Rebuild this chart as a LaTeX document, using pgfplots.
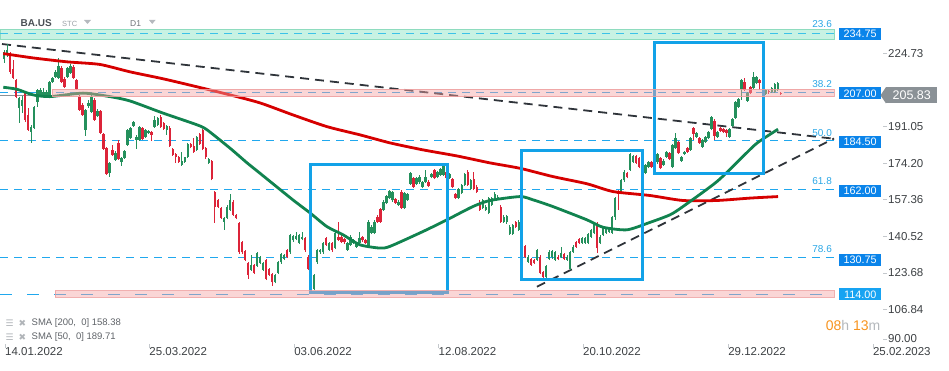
\documentclass[border=0pt]{standalone}
\usepackage{pgfplots}
\pgfplotsset{compat=1.18}
\usepackage{pgfplotstable}
\usepackage{fontspec}
\setmainfont{Liberation Sans}
\newfontfamily\dejavu{DejaVu Sans}
\definecolor{cup}{HTML}{24905C}
\definecolor{cdn}{HTML}{DC2439}
\definecolor{smared}{HTML}{D60000}
\definecolor{smagreen}{HTML}{11834F}
\definecolor{boxblue}{HTML}{12A2E8}
\definecolor{lvl}{HTML}{20A8EE}
\definecolor{lvlcyan}{HTML}{3CC2E8}
\definecolor{trend}{HTML}{2F343A}
\definecolor{gband}{HTML}{C8F2E3}
\definecolor{gbandb}{HTML}{8EDCBF}
\definecolor{pband}{HTML}{F5A3A3}
\definecolor{pbandb}{HTML}{EE9C9C}
\definecolor{lblue}{HTML}{0A84EA}
\definecolor{lblue2}{HTML}{17A3F2}
\definecolor{pgray}{HTML}{8A9196}
\definecolor{axtxt}{HTML}{3C4043}
\definecolor{tickgray}{HTML}{C4C8CC}
\definecolor{fibtxt}{HTML}{2BA7E6}
\definecolor{orng}{HTML}{F7931E}
\definecolor{hgray}{HTML}{B4B8BC}
\definecolor{leg}{HTML}{5F6368}
\definecolor{icon}{HTML}{B0B4B8}
\definecolor{hdr}{HTML}{4A4F55}
\definecolor{stc}{HTML}{9AA0A6}
\definecolor{tri}{HTML}{B5B9BE}
\begin{document}
\pgfplotstableread{
x l h o c
0 220.3 226.3 222.0 225.5
1 223.1 229.1 224.0 226.3
5 192.7 204.7 199.6 204.2
6 197.3 205.1 200.5 203.3
9 183.5 191.8 188.6 190.9
10 190.0 200.5 190.4 200.1
11 200.1 208.4 202.4 207.9
12 204.7 208.8 205.6 207.9
13 205.1 208.8 205.6 206.7
14 204.7 207.9 205.6 207.0
15 205.1 212.0 205.6 211.6
16 211.0 214.0 211.6 213.4
17 213.4 217.1 213.9 216.2
18 213.0 222.6 213.4 218.9
21 213.4 218.5 213.9 218.0
22 215.3 219.9 215.7 218.9
27 186.7 199.2 189.5 198.7
28 199.6 203.3 200.5 201.9
29 197.3 205.6 197.8 204.7
31 195.5 199.2 195.9 198.2
35 167.9 174.8 169.7 174.3
37 175.2 179.8 175.7 178.9
39 172.9 177.1 174.8 176.6
40 176.2 180.3 176.6 179.8
41 182.1 190.0 182.6 189.5
42 185.4 190.9 185.8 190.4
43 190.9 193.6 191.3 192.9
44 180.8 187.2 184.9 186.4
45 184.4 191.5 184.9 191.0
47 185.8 190.0 186.3 189.5
48 187.6 189.5 188.0 189.0
50 190.5 195.9 191.0 194.1
51 191.3 195.5 191.8 195.0
54 187.2 191.8 189.5 191.3
59 172.9 179.1 173.4 175.4
60 174.4 177.2 174.9 176.8
61 176.6 183.6 177.1 183.1
64 179.8 186.9 180.3 186.4
68 173.8 176.7 174.3 176.2
73 143.5 149.5 147.3 149.0
74 148.4 154.7 148.9 154.2
75 152.2 160.1 152.7 157.3
82 124.6 131.9 125.1 127.4
84 126.4 133.3 126.9 132.8
85 127.7 131.3 128.2 130.8
86 124.6 128.7 125.1 128.2
90 118.8 123.3 119.3 122.8
91 123.1 129.0 123.6 128.5
92 128.0 133.0 128.5 132.5
93 129.5 132.5 130.0 132.0
95 132.6 141.7 133.1 141.2
96 138.1 141.2 138.6 140.7
97 138.7 142.3 139.2 140.7
98 136.9 141.7 137.4 141.2
99 138.7 142.7 139.2 140.1
103 115.7 123.3 116.2 122.8
104 128.0 134.8 128.5 134.3
105 132.6 134.8 133.1 134.3
106 132.6 137.9 133.1 137.4
108 133.8 137.9 134.3 137.4
110 134.6 142.5 135.1 142.0
114 133.8 137.9 134.3 137.4
115 136.1 140.9 136.6 140.4
116 136.9 139.4 137.4 138.9
117 135.3 137.9 135.8 137.4
118 136.9 142.7 137.4 139.7
121 135.3 147.8 135.8 147.3
122 141.5 145.5 142.0 145.0
123 141.5 147.8 142.0 147.3
126 152.2 157.0 152.7 156.5
127 155.3 159.6 155.8 159.1
128 157.6 161.9 158.1 161.4
129 156.5 161.2 157.0 160.7
131 154.5 157.0 155.0 156.5
133 153.0 160.9 153.5 160.4
134 156.8 160.6 157.3 160.1
135 164.2 170.1 164.7 169.6
137 164.2 167.8 164.7 167.3
138 164.8 168.5 165.3 168.0
139 162.6 165.8 163.1 165.3
140 165.2 171.1 165.7 168.0
142 167.2 169.8 167.7 169.3
144 167.2 170.4 167.7 169.9
145 168.3 171.9 168.8 171.4
146 168.3 173.4 168.8 172.9
148 166.8 169.8 167.3 169.3
151 157.6 162.7 158.1 162.2
152 159.9 164.7 160.4 164.2
153 163.7 169.8 164.2 169.3
155 161.7 167.0 162.2 166.5
159 153.0 157.8 153.5 157.3
160 152.2 154.7 152.7 154.2
161 150.7 158.6 151.2 158.1
162 154.5 158.6 155.0 158.1
163 156.8 161.1 157.3 160.1
164 157.1 159.3 157.6 158.8
166 146.8 150.1 147.3 149.6
167 146.4 150.4 146.9 149.9
168 141.2 145.5 141.7 145.0
169 141.2 146.3 141.7 145.8
171 143.0 147.8 143.5 147.3
174 128.4 131.7 128.9 131.2
177 129.2 134.8 129.7 134.3
180 121.2 127.4 121.7 126.9
181 129.5 134.0 130.0 133.5
182 130.3 134.4 130.8 133.9
183 129.2 133.6 129.7 133.1
185 130.7 135.8 131.2 132.8
187 129.2 131.7 129.7 131.2
188 124.9 133.6 125.4 133.1
189 133.0 136.3 133.5 135.8
192 136.9 140.2 137.4 139.7
193 137.1 140.4 137.6 139.9
194 136.9 142.2 137.4 141.7
195 139.9 144.0 140.4 143.5
196 141.5 147.1 142.0 146.6
198 136.9 140.9 137.4 140.4
199 140.7 144.8 141.2 144.3
200 141.5 144.8 142.0 144.3
201 142.2 144.8 142.7 144.3
202 141.5 149.8 142.0 149.3
203 148.1 158.6 149.6 158.1
205 160.6 166.7 161.1 166.2
206 165.7 170.8 166.2 170.3
208 170.6 179.0 171.1 178.5
209 174.4 178.0 174.9 177.5
212 171.4 173.9 171.9 173.4
213 169.1 173.9 169.6 173.4
214 171.8 175.0 172.3 174.5
216 169.8 175.4 170.3 174.9
217 174.0 179.0 174.5 178.5
219 172.9 175.9 173.4 175.4
220 176.7 179.6 177.2 179.1
222 171.8 183.1 172.3 182.6
223 180.6 188.0 181.1 185.7
225 174.9 177.7 175.4 177.2
226 178.0 180.0 178.5 179.5
228 179.8 186.2 180.3 185.7
230 185.9 188.5 186.4 188.0
232 181.3 185.4 181.8 184.9
233 183.6 186.9 184.1 186.4
234 185.2 189.2 185.7 188.7
235 189.3 195.8 189.8 195.3
237 185.9 189.2 186.4 188.7
241 185.9 190.3 186.4 189.8
242 190.8 194.9 191.3 194.4
243 194.4 203.0 194.9 202.5
244 199.7 204.1 200.2 203.6
245 203.3 213.0 208.2 212.5
247 202.5 206.9 203.0 206.4
249 208.2 215.9 208.7 214.0
250 210.5 214.5 211.0 214.0
252 205.9 208.4 206.4 207.9
253 205.5 208.4 206.0 207.9
255 206.6 209.2 207.1 208.7
256 206.6 211.2 207.1 210.7
257 207.4 211.5 207.9 211.0
}\upT
\pgfplotstableread{
x l h o c
2 215.3 225.4 224.9 216.2
3 213.0 221.7 217.5 213.4
4 204.0 213.0 212.5 204.7
7 193.2 207.4 206.5 194.1
8 189.0 199.6 196.4 189.5
19 211.1 218.9 218.0 211.6
20 208.8 213.9 213.0 209.3
23 213.0 219.4 218.5 213.4
24 207.9 213.0 212.5 208.4
25 198.2 205.6 204.7 198.7
26 195.9 201.9 201.0 196.4
30 193.6 204.2 203.3 194.1
32 187.7 198.7 198.2 188.1
33 180.3 188.1 187.7 180.8
34 168.8 181.7 181.2 169.3
36 177.5 182.6 180.3 178.0
38 175.7 184.9 183.5 176.2
46 184.9 191.0 190.4 185.4
49 184.4 189.2 188.7 187.2
52 190.5 196.4 195.5 191.0
53 189.5 193.2 192.7 190.0
55 181.7 191.3 190.4 182.3
56 177.5 181.2 180.8 178.0
57 174.3 179.0 178.5 177.1
58 174.4 177.6 177.2 174.9
62 181.0 183.6 183.1 181.5
63 179.0 185.7 182.1 179.5
65 182.6 188.1 187.7 183.1
66 180.1 190.0 189.5 180.6
67 176.3 181.6 181.1 176.8
69 166.3 175.7 175.2 166.8
70 146.7 161.3 160.8 154.2
71 153.7 157.8 157.3 154.2
72 148.4 154.0 153.5 148.9
76 149.9 157.0 156.5 150.4
77 148.4 150.9 150.4 148.9
78 132.6 147.1 146.6 133.1
79 132.6 138.2 137.7 133.1
80 129.2 134.3 133.8 129.7
81 121.0 128.7 128.2 122.8
83 123.1 128.0 127.4 123.6
87 120.3 129.9 129.4 120.8
88 122.3 125.9 125.4 122.8
89 117.7 123.6 123.1 119.3
94 130.7 134.5 134.0 131.2
100 133.5 140.2 139.7 134.0
101 124.9 131.7 131.2 125.4
102 116.2 124.1 123.6 116.7
107 136.1 140.2 139.7 136.6
109 133.5 137.9 137.4 134.0
111 138.4 146.9 140.4 138.9
112 137.6 140.9 140.4 138.1
113 137.2 139.7 139.2 137.7
119 138.1 140.6 140.1 138.6
120 136.9 139.1 138.6 137.4
124 146.8 150.1 149.6 147.3
125 146.8 153.5 153.0 147.3
130 155.3 158.3 157.8 155.8
132 153.0 161.6 161.1 153.5
136 162.9 167.8 167.3 163.4
141 163.2 166.2 165.7 163.7
143 166.8 171.6 171.1 167.3
147 166.8 170.4 169.9 167.3
149 162.6 167.3 166.8 163.1
150 157.6 160.6 160.1 158.1
154 163.7 171.1 169.9 164.2
156 161.7 169.9 166.8 162.2
157 160.6 163.9 163.4 161.1
158 152.2 157.0 156.5 152.7
165 146.8 154.7 154.2 147.3
170 144.2 147.4 146.9 144.7
172 138.7 144.0 143.5 139.2
173 130.7 136.6 136.1 131.2
175 126.9 130.5 130.0 127.4
176 127.7 130.2 129.7 128.2
178 123.1 131.7 131.2 123.6
179 121.2 124.4 123.9 121.7
184 129.5 131.7 131.2 130.0
186 129.5 133.0 132.5 130.0
190 135.3 138.2 137.7 135.8
191 136.9 139.7 139.2 137.4
197 132.8 147.1 146.6 135.1
204 152.7 161.6 161.1 160.1
207 167.2 170.1 169.6 167.7
210 173.7 178.0 177.5 174.2
211 171.8 177.0 176.5 172.3
215 172.1 175.0 174.5 172.6
218 171.4 177.0 176.5 171.9
221 175.5 179.3 178.8 176.0
224 178.3 184.2 183.7 178.8
227 179.0 181.6 181.1 179.5
229 184.9 190.8 190.3 187.7
231 182.9 186.2 185.7 183.4
236 184.9 194.3 193.8 186.7
238 188.7 190.8 190.3 189.2
239 188.2 190.3 189.8 188.7
240 186.1 190.0 189.5 188.0
246 207.4 213.3 211.3 207.9
248 205.9 209.9 209.4 206.4
251 207.9 213.0 212.5 211.0
254 206.2 207.9 207.4 206.7
258 205.6 206.9 206.4 205.8
}\dnT
\begin{tikzpicture}
\begin{axis}[
  at={(0,0)}, anchor=south west,
  width=949pt, height=370pt, scale only axis,
  xmin=-1.395, xmax=313.9, ymin=78.99, ymax=249.26,
  axis line style={draw=none},
  tick align=inside, major tick length=4pt,
  xtick pos=left, ytick pos=right, yticklabel pos=right,
  xtick={0.27,48.2,96.3,144.3,192.3,240.5,288.6},
  xticklabels={14.01.2022,25.03.2022,03.06.2022,12.08.2022,20.10.2022,29.12.2022,25.02.2023},
  ytick={224.73,191.05,174.20,157.36,140.52,123.68,106.84,93.25},
  yticklabels={224.73,191.05,174.20,157.36,140.52,123.68,106.84,90.00},
  xticklabel style={anchor=north west, yshift=23pt, inner sep=0pt, font=\fontsize{11.5}{12}\selectfont, text=axtxt},
  yticklabel style={anchor=west, xshift=-61pt, inner sep=0pt, font=\fontsize{11.5}{12}\selectfont, text=axtxt},
  xtick style={draw=tickgray, yshift=22pt, line width=0.6pt},
  ytick style={draw=tickgray, xshift=-62pt, line width=0.6pt},
  candle/.style={draw=none, mark=none, forget plot, error bars/.cd, y dir=plus, y explicit, error mark=none},
]
% green band (under its dashes)
\addplot[draw=gbandb, fill=gband, line width=0.8pt, forget plot] coordinates {(-1.395,231.3) (275.7,231.3) (275.7,235.8) (-1.395,235.8)} -- cycle;
% level lines
\addplot[lvlcyan, dash pattern=on 8pt off 6pt, line width=0.9pt, forget plot] coordinates {(-1.395,233.9) (275.7,233.9)};
\addplot[lvl, dash pattern=on 8pt off 6pt, line width=0.9pt, forget plot] coordinates {(-1.395,206.5) (275.7,206.5)};
\addplot[pgray, line width=0.8pt, forget plot] coordinates {(-1.395,205.5) (16,205.5)};
\addplot[lvl, dash pattern=on 8pt off 6pt, line width=0.9pt, forget plot] coordinates {(-1.395,184.5) (275.7,184.5)};
\addplot[lvl, dash pattern=on 8pt off 6pt, line width=0.9pt, forget plot] coordinates {(-1.395,162.0) (275.7,162.0)};
\addplot[lvl, dash pattern=on 8pt off 6pt, line width=0.9pt, forget plot] coordinates {(-1.395,130.75) (275.7,130.75)};
\addplot[lvl, dash pattern=on 12pt off 15pt, line width=1pt, forget plot] coordinates {(-1.395,113.9) (275.7,113.9)};
% trend lines
\addplot[trend, dash pattern=on 9pt off 6pt, line width=1.8pt, forget plot] coordinates {(-0.73,229.0) (276.4,185.3)};
\addplot[trend, dash pattern=on 9pt off 6pt, line width=1.8pt, forget plot] coordinates {(177.0,117.3) (275.7,185.5)};
% candles: wicks and bodies
\addplot[candle, error bar style={draw=cup, line width=0.8pt}] table[x=x, y=l, y error expr=\thisrow{h}-\thisrow{l}] {\upT};
\addplot[candle, error bar style={draw=cup, line width=2.4pt}] table[x=x, y=o, y error expr=\thisrow{c}-\thisrow{o}] {\upT};
\addplot[candle, error bar style={draw=cdn, line width=0.8pt}] table[x=x, y=l, y error expr=\thisrow{h}-\thisrow{l}] {\dnT};
\addplot[candle, error bar style={draw=cdn, line width=2.4pt}] table[x=x, y=c, y error expr=\thisrow{o}-\thisrow{c}] {\dnT};
% SMA 200
\addplot[smared, line width=2.8pt, smooth, tension=0.4, forget plot] coordinates {
(-0.3,224.6) (9.6,222.6) (20.9,220.8) (31.8,219.6) (41.8,216.2) (52.8,213.0) (64.1,209.3) (75.0,205.6) (85.0,201.9) (95.9,196.4) (107.2,191.0) (118.2,187.2) (128.2,183.5) (139.1,180.3) (150.4,177.5) (161.4,174.3) (171.4,171.8) (182.3,168.0) (193.6,164.7) (202.3,161.1) (214.5,159.3) (225.5,157.0) (236.8,157.0) (247.8,158.1) (257.1,158.8)};
% SMA 50
\addplot[smagreen, line width=2.8pt, smooth, tension=0.4, forget plot] coordinates {
(-0.3,209.1) (4.2,208.2) (9.6,205.6) (15.2,204.8) (26.2,206.4) (35.1,204.8) (41.8,202.8) (52.8,197.2) (64.1,191.8) (67.4,189.5) (75.0,181.1) (80.7,174.3) (85.0,169.5) (95.9,157.3) (101.6,151.3) (107.2,145.0) (112.6,141.2) (118.2,136.6) (124.8,135.1) (128.2,135.9) (139.1,142.7) (147.1,148.1) (155.7,154.2) (161.4,157.0) (171.4,158.8) (175.7,157.3) (182.3,154.2) (193.6,148.1) (198.9,144.7) (206.9,143.5) (214.5,146.9) (221.2,150.4) (225.5,154.2) (236.8,165.7) (245.4,177.2) (250.1,183.4) (257.1,189.8)};
% blue boxes
\addplot[boxblue, line width=3pt, line join=miter, forget plot] coordinates {(101.6,114.7) (147.4,114.7) (147.4,173.6) (101.6,173.6)} -- cycle;
\addplot[boxblue, line width=3pt, line join=miter, forget plot] coordinates {(171.7,120.6) (211.9,120.6) (211.9,179.8) (171.7,179.8)} -- cycle;
\addplot[boxblue, line width=3pt, line join=miter, forget plot] coordinates {(215.9,169.3) (252.4,169.3) (252.4,229.5) (215.9,229.5)} -- cycle;
% pink bands on top, semi-transparent
\addplot[draw=pbandb, draw opacity=0.8, fill=pband, fill opacity=0.45, line width=0.8pt, forget plot] coordinates {(15.9,204.8) (275.7,204.8) (275.7,208.2) (15.9,208.2)} -- cycle;
\addplot[draw=pbandb, draw opacity=0.8, fill=pband, fill opacity=0.45, line width=0.8pt, forget plot] coordinates {(16.9,112.4) (275.7,112.4) (275.7,115.4) (16.9,115.4)} -- cycle;
\end{axis}
% header
\node[anchor=west, inner sep=0pt, font=\bfseries\fontsize{10}{11}\selectfont, text=hdr] at (20.5pt,347pt) {BA.US};
\node[anchor=west, inner sep=0pt, font=\fontsize{7.5}{8}\selectfont, text=stc] at (62pt,346.5pt) {STC};
\fill[tri] (84pt,350pt) -- (91pt,350pt) -- (87.5pt,346pt) -- cycle;
\node[anchor=west, inner sep=0pt, font=\fontsize{8.5}{9}\selectfont, text=hdr!80] at (130pt,346.5pt) {D1};
\fill[tri] (149pt,350pt) -- (155.5pt,350pt) -- (152.25pt,346pt) -- cycle;
% fib labels
\node[anchor=east, inner sep=0pt, font=\fontsize{10}{11}\selectfont, text=fibtxt] at (832pt,345.5pt) {23.6};
\node[anchor=east, inner sep=0pt, font=\fontsize{10}{11}\selectfont, text=fibtxt] at (832pt,285.5pt) {38.2};
\node[anchor=east, inner sep=0pt, font=\fontsize{10}{11}\selectfont, text=fibtxt] at (832pt,237pt) {50.0};
\node[anchor=east, inner sep=0pt, font=\fontsize{10}{11}\selectfont, text=fibtxt] at (832pt,188.5pt) {61.8};
\node[anchor=east, inner sep=0pt, font=\fontsize{10}{11}\selectfont, text=fibtxt] at (832pt,120.5pt) {78.6};
% level value boxes
\tikzset{vbox/.style={anchor=west, fill=lblue, text=white, font=\fontsize{10.8}{11}\selectfont, minimum width=42pt, minimum height=12pt, inner sep=0pt}}
\node[vbox] at (839pt,336.2pt) {234.75};
\node[vbox] at (839pt,276.7pt) {207.00};
\node[vbox] at (839pt,228.3pt) {184.50};
\node[vbox] at (839pt,179.5pt) {162.00};
\node[vbox] at (839pt,110.5pt) {130.75};
\node[vbox, fill=lblue2] at (839pt,75.7pt) {114.00};
% current price
\node[anchor=west, fill=pgray, text=white, font=\fontsize{12.5}{13}\selectfont, minimum width=51pt, minimum height=16pt, inner sep=0pt] (gp) at (886pt,274.7pt) {205.83};
\fill[pgray] (gp.north west) -- (880.5pt,274.7pt) -- (gp.south west) -- cycle;
% countdown
\node[anchor=east, inner sep=0pt, font=\fontsize{14}{15}\selectfont] at (880.5pt,45pt) {\textcolor{orng}{08}\textcolor{hgray}{h} \textcolor{orng}{13}\textcolor{hgray}{m}};
% indicator legend
\node[anchor=west, inner sep=0pt, font=\dejavu\fontsize{9}{10}\selectfont, text=icon] at (5.5pt,47pt) {☰};
\node[anchor=west, inner sep=0pt, font=\dejavu\fontsize{9}{10}\selectfont, text=icon] at (18.5pt,47pt) {✖};
\node[anchor=west, inner sep=0pt, font=\fontsize{9.5}{10}\selectfont, text=leg] at (31.5pt,47pt) {SMA [200,\ \ 0]\ 158.38};
\node[anchor=west, inner sep=0pt, font=\dejavu\fontsize{9}{10}\selectfont, text=icon] at (5.5pt,33pt) {☰};
\node[anchor=west, inner sep=0pt, font=\dejavu\fontsize{9}{10}\selectfont, text=icon] at (18.5pt,33pt) {✖};
\node[anchor=west, inner sep=0pt, font=\fontsize{9.5}{10}\selectfont, text=leg] at (31.5pt,33pt) {SMA [50,\ \ 0]\ 189.71};
\pgfresetboundingbox
\path (0,0) rectangle (949pt,370pt);
\end{tikzpicture}
\end{document}
